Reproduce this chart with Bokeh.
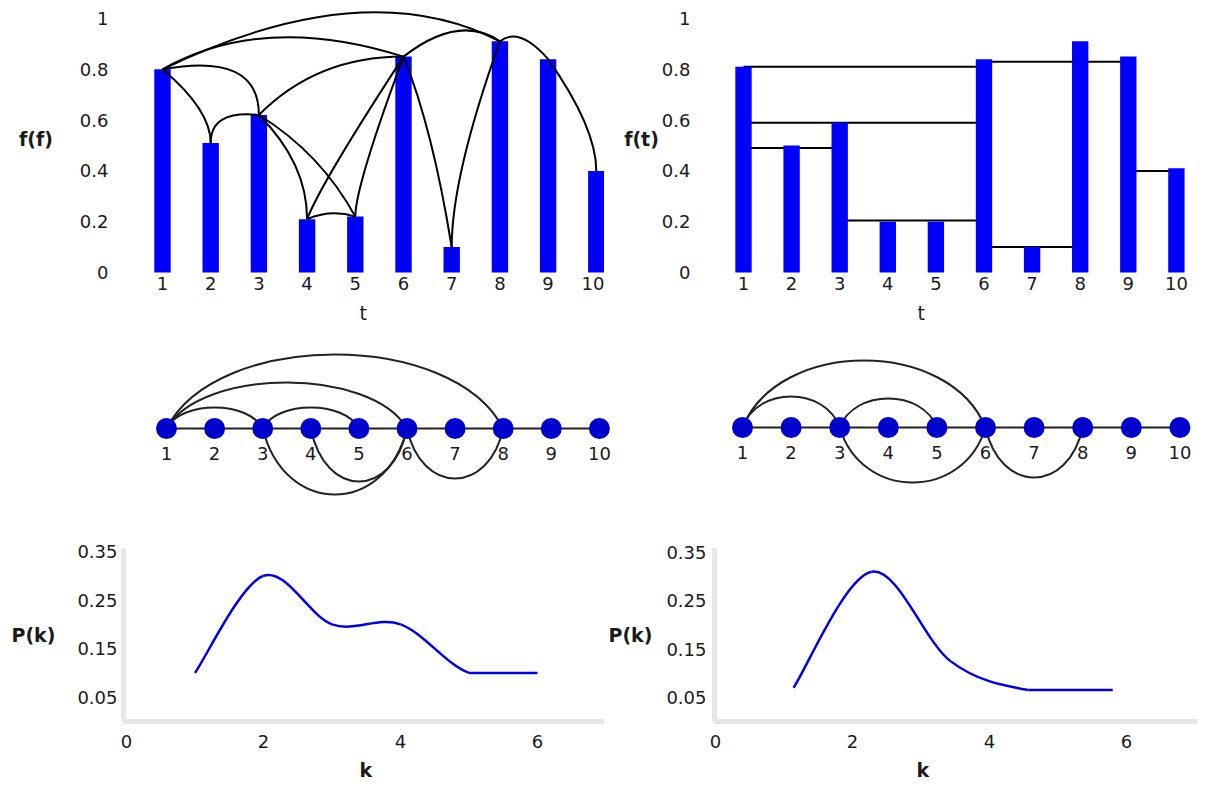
from bokeh.plotting import figure
from bokeh.models import Range1d, FixedTicker, CustomJSTickFormatter, Title
from bokeh.layouts import column, row
from bokeh.embed import file_html
from bokeh.resources import INLINE
from bokeh.core.properties import value

# ---------------- data ----------------
t_steps = [1, 2, 3, 4, 5, 6, 7, 8, 9, 10]
t_labels = [str(t) for t in t_steps]
vg_values = [0.80, 0.51, 0.62, 0.21, 0.22, 0.85, 0.10, 0.91, 0.84, 0.40]
hvg_values = [0.81, 0.50, 0.59, 0.20, 0.20, 0.84, 0.10, 0.91, 0.85, 0.41]

# natural visibility links drawn on the top-left series
vg_link_from = [1, 1, 6, 1, 1, 2, 3, 3, 3, 4, 4, 5, 6, 7, 8, 9]
vg_link_to = [8, 6, 8, 3, 2, 3, 6, 4, 5, 5, 6, 6, 7, 8, 9, 10]

# horizontal visibility links drawn on the top-right series
hvg_link_from = [1, 6, 1, 1, 3, 6, 9]
hvg_link_to = [6, 9, 6, 3, 6, 8, 10]
hvg_link_level = [0.81, 0.83, 0.59, 0.49, 0.205, 0.10, 0.40]

# graph arcs (middle row)
vg_arc_from = [1, 1, 1, 3, 3, 4, 6]
vg_arc_to = [8, 6, 3, 5, 6, 6, 8]
hvg_arc_from = [1, 1, 3, 3, 6]
hvg_arc_to = [6, 3, 5, 6, 8]

# degree distributions (bottom row)
k_vg = [1, 2, 3, 4, 5, 6]
pk_vg = [0.10, 0.30, 0.20, 0.20, 0.10, 0.10]
k_hvg = [1.14, 2.28, 3.43, 4.57, 5.80]
pk_hvg = [0.07, 0.31, 0.125, 0.065, 0.065]

# ---------------- style (shapes of the drawn links) ----------------
# quadratic curve control: (fraction along link, lift above higher end)
vg_curve_shape = [(0.6, 0.275), (0.42, 0.175), (0.58, 0.11), (1.0, 0.07),
                  (1.0, -0.16), (0.0, 0.02), (0.4, 0.0), (1.0, -0.19),
                  (0.64, -0.15), (0.5, 0.03), (0.14, -0.50), (0.0, -0.51),
                  (0.6, -0.28), (0.0, -0.53), (0.4, 0.06), (1.0, -0.27)]
vg_arc_height = [74, 46, 21, 21, -66, -53, -50]     # pixels, + above / - below
hvg_arc_height = [67, 31, 29, -55, -50]

FONT = "DejaVu Sans"
BLUE = "#0000ff"
NODE_BLUE = "#0000cc"
INK = "#1a1a1a"


def make_fig(w, h, borders, xa, ya, axes=True):
    L, R, T, B = borders
    xpx, xval, xppu = xa
    ypx, yval, yppu = ya
    xr = Range1d(xval - (xpx - L) / xppu, xval + (w - R - xpx) / xppu)
    yr = Range1d(yval - (h - B - ypx) / yppu, yval + (ypx - T) / yppu)
    kw = {}
    if not axes:
        kw = dict(x_axis_type=None, y_axis_type=None)
    p = figure(width=w, height=h, x_range=xr, y_range=yr, output_backend="svg",
               toolbar_location=None, min_border_left=L, min_border_right=R,
               min_border_top=T, min_border_bottom=B, **kw)
    p.outline_line_color = None
    p.xgrid.visible = False
    p.ygrid.visible = False
    p.background_fill_color = "white"
    p.border_fill_color = "white"
    p.toolbar.logo = None
    return p


def style_axis(ax, ticks, standoff, line_color=None, line_width=1, align=None):
    ax.ticker = FixedTicker(ticks=ticks)
    ax.formatter = CustomJSTickFormatter(code="return String(Number(tick.toFixed(4)))")
    ax.axis_line_color = line_color
    ax.axis_line_width = line_width
    ax.major_tick_line_color = None
    ax.minor_tick_line_color = None
    ax.major_tick_out = 0
    ax.major_tick_in = 0
    ax.major_label_standoff = standoff
    ax.major_label_text_font = FONT
    ax.major_label_text_font_size = "18px"
    ax.major_label_text_color = INK
    if align:
        ax.major_label_text_align = align


def y_title(p, text, standoff):
    ax = p.yaxis[0]
    ax.axis_label = text
    ax.axis_label_orientation = "horizontal"
    ax.axis_label_standoff = standoff
    ax.axis_label_text_font = FONT
    ax.axis_label_text_font_size = "19px"
    ax.axis_label_text_font_style = "bold"
    ax.axis_label_text_color = INK


def x_title(p, text, offset, bold, standoff):
    p.add_layout(Title(text=text, align="left", offset=offset, standoff=standoff,
                       text_font=FONT, text_font_size="19px",
                       text_font_style="bold" if bold else "normal",
                       text_color=INK), "below")


# ---------------- top left: series with visibility links ----------------
tl = make_fig(604, 330, (130, 0, 2, 56), (162, 1, 48.2), (272, 0, 254))
style_axis(tl.xaxis[0], t_steps, 2)
style_axis(tl.yaxis[0], [0, 0.2, 0.4, 0.6, 0.8, 1], 22, align="center")
tl.vbar(x=t_steps, top=vg_values, bottom=0, width=0.34, fill_color=BLUE, line_color=None)
qx0, qy0, qx1, qy1, qcx, qcy = [], [], [], [], [], []
for (i, j), (a, lift) in zip(zip(vg_link_from, vg_link_to), vg_curve_shape):
    vi, vj = vg_values[i - 1], vg_values[j - 1]
    qx0.append(i); qy0.append(vi); qx1.append(j); qy1.append(vj)
    qcx.append(i + a * (j - i)); qcy.append(max(vi, vj) + lift)
tl.quadratic(x0=qx0, y0=qy0, x1=qx1, y1=qy1, cx=qcx, cy=qcy, line_color="black", line_width=2)
y_title(tl, "f(f)", 24)
x_title(tl, "t", 229, False, 14)

# ---------------- top right: series with horizontal visibility ----------------
tr = make_fig(605, 330, (106, 0, 2, 56), (139, 1, 48.1), (272, 0, 254))
style_axis(tr.xaxis[0], t_steps, 2)
style_axis(tr.yaxis[0], [0, 0.2, 0.4, 0.6, 0.8, 1], 20, align="center")
tr.segment(x0=hvg_link_from, y0=hvg_link_level, x1=hvg_link_to, y1=hvg_link_level,
           line_color="black", line_width=2)
tr.vbar(x=t_steps, top=hvg_values, bottom=0, width=0.34, fill_color=BLUE, line_color=None)
y_title(tr, "f(t)", 0)
x_title(tr, "t", 207, False, 14)


# ---------------- middle: graphs ----------------
def graph_fig(w, node_px, ppu, node_py, arc_from, arc_to, arc_h):
    p = make_fig(w, 180, (0, 0, 0, 0), (node_px, 1, ppu), (node_py, 0, 1), axes=False)
    bx0, by0, bx1, by1, c0x, c0y, c1x, c1y = [], [], [], [], [], [], [], []
    for i, j, hgt in zip(arc_from, arc_to, arc_h):
        d = j - i
        bx0.append(i); by0.append(0); bx1.append(j); by1.append(0)
        c0x.append(i + 0.15 * d); c1x.append(j - 0.15 * d)
        c0y.append(hgt * 4 / 3); c1y.append(hgt * 4 / 3)
    p.bezier(x0=bx0, y0=by0, x1=bx1, y1=by1, cx0=c0x, cy0=c0y, cx1=c1x, cy1=c1y,
             line_color="#222222", line_width=2)
    p.line(x=t_steps, y=[0] * len(t_steps), line_color="#222222", line_width=2)
    p.scatter(x=t_steps, y=[0] * len(t_steps), size=21, fill_color=NODE_BLUE, line_color=None)
    p.text(x=t_steps, y=[-25] * len(t_steps), text=t_labels, text_font=value(FONT),
           text_font_size=value("18px"), text_align="center", text_baseline="middle",
           text_color=INK)
    return p


ml = graph_fig(614, 166, 48.1, 98, vg_arc_from, vg_arc_to, vg_arc_height)
mr = graph_fig(595, 128, 48.6, 97, hvg_arc_from, hvg_arc_to, hvg_arc_height)


# ---------------- bottom: degree distributions ----------------
def smooth_segments(xs, ys):
    n = len(xs)
    out = {k: [] for k in ("x0", "y0", "x1", "y1", "cx0", "cy0", "cx1", "cy1")}
    for i in range(n - 1):
        xp, yp = (xs[i - 1], ys[i - 1]) if i > 0 else (xs[i], ys[i])
        xn, yn = (xs[i + 2], ys[i + 2]) if i + 2 < n else (xs[i + 1], ys[i + 1])
        c0y = ys[i] + (ys[i + 1] - yp) / 6
        c1y = ys[i + 1] - (yn - ys[i]) / 6
        if i == n - 2 and ys[i] == ys[i + 1]:
            c0y = c1y = ys[i]          # flat tail drawn straight
        out["x0"].append(xs[i]); out["y0"].append(ys[i])
        out["x1"].append(xs[i + 1]); out["y1"].append(ys[i + 1])
        out["cx0"].append(xs[i] + (xs[i + 1] - xp) / 6)
        out["cy0"].append(c0y)
        out["cx1"].append(xs[i + 1] - (xn - xs[i]) / 6)
        out["cy1"].append(c1y)
    return out


def dist_fig(w, borders, zero_px, ks, pks, ystand, ytitle_stand, k_offset):
    p = make_fig(w, 276, borders, (zero_px, 0, 68.5), (212, 0, 488.6))
    style_axis(p.xaxis[0], [0, 2, 4, 6], 13, "#e6e6e6", 5)
    style_axis(p.yaxis[0], [0.05, 0.15, 0.25, 0.35], ystand, "#e6e6e6", 5)
    p.bezier(**smooth_segments(ks, pks), line_color="#0000ee", line_width=2.5)
    y_title(p, "P(k)", ytitle_stand)
    x_title(p, "k", k_offset, True, 12)
    return p


bl = dist_fig(604, (123, 0, 38, 64), 126, k_vg, pk_vg, 6, 19, 236)
br = dist_fig(605, (110, 12, 37, 64), 111, k_hvg, pk_hvg, 8, 11, 202)

layout = column(row(tl, tr, spacing=0), row(ml, mr, spacing=0), row(bl, br, spacing=0), spacing=0)
open("out.html", "w").write(file_html(layout, INLINE))
